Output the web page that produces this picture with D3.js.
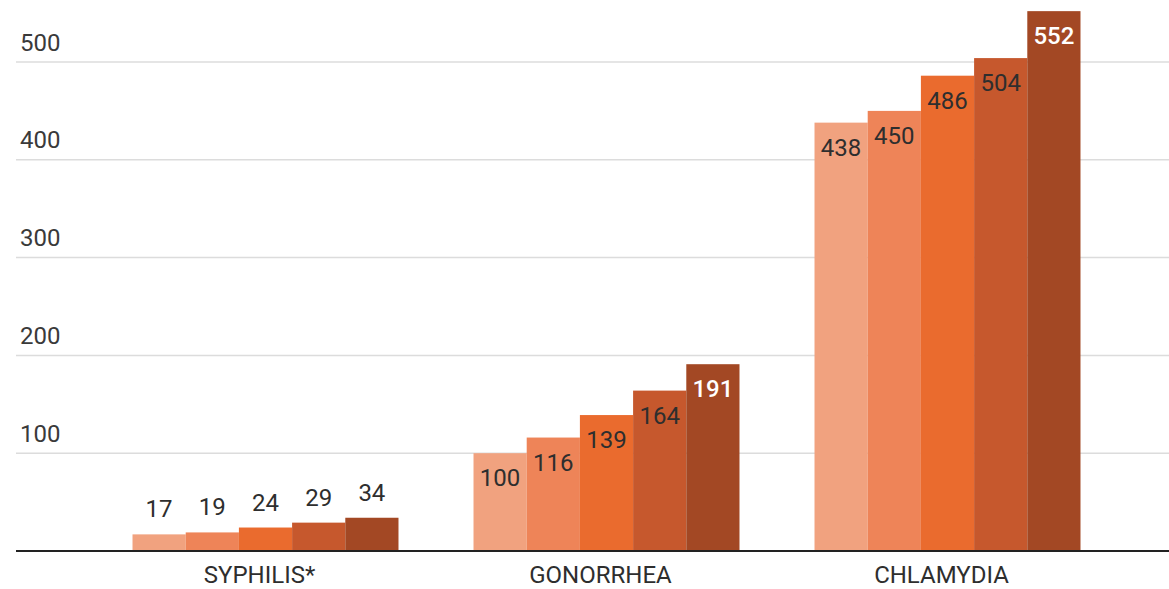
<!DOCTYPE html>
<html>
<head>
<meta charset="utf-8">
<script src="https://cdn.jsdelivr.net/npm/d3@7"></script>
<style>
  html, body { margin: 0; padding: 0; background: #fff; }
  svg { display: block; font-family: Roboto, "Noto Sans", sans-serif; }
</style>
</head>
<body>
<svg id="chart" width="1169" height="589"></svg>
<script>
// Reported cases per year, grouped by disease
const categories = ["SYPHILIS*", "GONORRHEA", "CHLAMYDIA"];
const syphilis   = [17, 19, 24, 29, 34];
const gonorrhea  = [100, 116, 139, 164, 191];
const chlamydia  = [438, 450, 486, 504, 552];
const yTicks     = [100, 200, 300, 400, 500];
const seriesColors = ["#f1a27f", "#ee8458", "#ea6b2e", "#c6582d", "#a34824"];

const values = [syphilis, gonorrhea, chlamydia];
const data = categories.map((c, i) => ({ category: c, values: values[i] }));

const svg = d3.select("#chart");
const W = 1169;
const plotLeft = 16, plotRight = W;

const y = d3.scaleLinear().domain([0, 500]).range([551, 62]);
const x0 = d3.scaleBand().domain(categories).range([95, 1118])
  .paddingInner(0.22).paddingOuter(0.11);
const x1 = d3.scaleBand().domain(d3.range(5)).range([0, x0.bandwidth()]).padding(0);

// horizontal grid lines with labels above them
const grid = svg.append("g");
grid.selectAll("line").data(yTicks).join("line")
  .attr("x1", plotLeft).attr("x2", plotRight)
  .attr("y1", d => y(d)).attr("y2", d => y(d))
  .attr("stroke", "#dcdcdc").attr("stroke-width", 1.5);
grid.selectAll("text").data(yTicks).join("text")
  .attr("x", 20).attr("y", d => y(d) - 11.5)
  .attr("font-size", 24).attr("fill", "#3a3a3a")
  .text(d => d);

// bars
const groups = svg.append("g").selectAll("g").data(data).join("g")
  .attr("transform", d => `translate(${x0(d.category)},0)`);

groups.selectAll("rect").data(d => d.values.map((v, i) => ({ v, i })))
  .join("rect")
  .attr("x", d => x1(d.i)).attr("width", x1.bandwidth())
  .attr("y", d => y(d.v)).attr("height", d => y(0) - y(d.v))
  .attr("fill", d => seriesColors[d.i]);

// value labels: inside the bar top when tall enough, otherwise above it
const inside = d => (y(0) - y(d.v)) > 60;
groups.selectAll("text.val").data(d => d.values.map((v, i) => ({ v, i })))
  .join("text").attr("class", "val")
  .attr("x", d => x1(d.i) + x1.bandwidth() / 2)
  .attr("y", d => inside(d) ? y(d.v) + 33 : y(d.v) - 17)
  .attr("text-anchor", "middle")
  .attr("font-size", 24)
  .attr("fill", d => (inside(d) && d.i === 4) ? "#fff" : "#2e2e2e")
  .attr("font-weight", d => (inside(d) && d.i === 4) ? 500 : 400)
  .text(d => d.v);

// baseline
svg.append("line")
  .attr("x1", plotLeft).attr("x2", plotRight)
  .attr("y1", y(0)).attr("y2", y(0))
  .attr("stroke", "#222").attr("stroke-width", 2);

// category labels
svg.append("g").selectAll("text").data(categories).join("text")
  .attr("x", d => x0(d) + x0.bandwidth() / 2 - 6)
  .attr("y", 583)
  .attr("text-anchor", "middle")
  .attr("font-size", 24).attr("fill", "#2e2e2e")
  .text(d => d);
</script>
</body>
</html>
